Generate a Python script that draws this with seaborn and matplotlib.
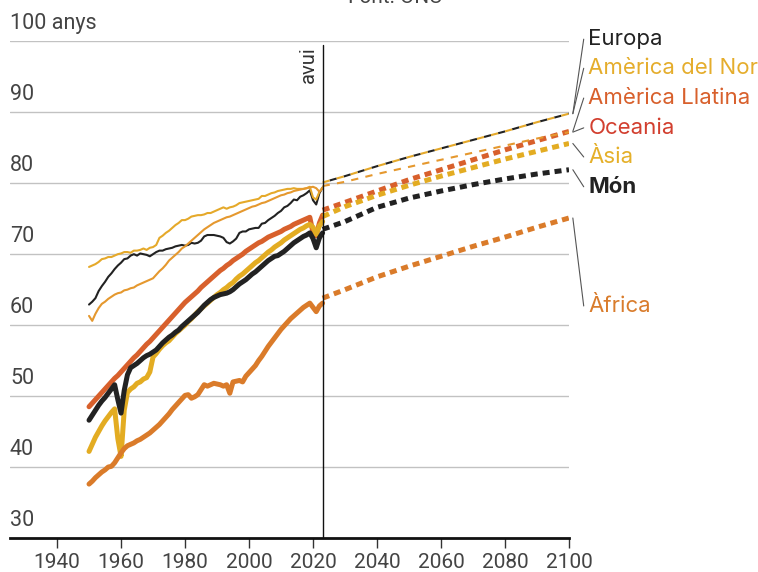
import numpy as np
import pandas as pd
import matplotlib
matplotlib.use("Agg")
import matplotlib.pyplot as plt
import seaborn as sns

# ============================================================
# DADES (esperança de vida, anys)
# ============================================================
anys_hist = list(range(1950, 2024))
anys_proj = [2023, 2030, 2040, 2050, 2060, 2070, 2080, 2090, 2100]

europa = [62.9, 63.3, 63.8, 64.8, 65.5, 66.1, 66.8, 67.3, 67.9, 68.4,
          68.8, 69.3, 69.4, 69.8, 70.0, 69.8, 70.1, 70.0, 69.9, 69.7,
          70.0, 70.3, 70.5, 70.5, 70.7, 70.8, 70.9, 71.1, 71.2, 71.3,
          71.2, 71.3, 71.6, 71.5, 71.6, 71.9, 72.5, 72.7, 72.7, 72.7,
          72.6, 72.5, 72.3, 71.7, 71.5, 71.8, 72.2, 73.0, 73.2, 73.2,
          73.5, 73.6, 73.7, 73.7, 74.3, 74.4, 74.8, 75.1, 75.4, 75.8,
          76.1, 76.6, 76.8, 77.2, 77.7, 77.6, 78.1, 78.3, 78.6, 79.0,
          77.6, 77.0, 78.6, 79.4]
am_nord = [68.2, 68.4, 68.6, 68.9, 69.3, 69.4, 69.6, 69.6, 69.8, 70.0,
           70.1, 70.3, 70.3, 70.2, 70.5, 70.5, 70.6, 70.8, 70.6, 70.9,
           71.0, 71.3, 72.3, 72.6, 73.0, 73.3, 73.7, 74.1, 74.4, 74.8,
           74.8, 75.0, 75.3, 75.4, 75.5, 75.5, 75.6, 75.8, 75.8, 76.0,
           76.2, 76.4, 76.6, 76.4, 76.6, 76.7, 76.9, 77.2, 77.3, 77.4,
           77.5, 77.6, 77.7, 77.8, 78.2, 78.2, 78.4, 78.6, 78.7, 78.9,
           79.0, 79.1, 79.2, 79.2, 79.3, 79.2, 79.2, 79.2, 79.3, 79.5,
           78.0, 77.7, 78.8, 79.4]
am_llatina = [48.5, 49.0, 49.5, 50.0, 50.5, 51.0, 51.5, 52.0, 52.5, 52.9,
              53.4, 53.9, 54.4, 54.9, 55.4, 55.8, 56.3, 56.8, 57.3, 57.7,
              58.2, 58.7, 59.2, 59.7, 60.2, 60.7, 61.2, 61.7, 62.2, 62.7,
              63.2, 63.6, 64.0, 64.4, 64.8, 65.3, 65.7, 66.1, 66.5, 66.9,
              67.3, 67.7, 68.0, 68.4, 68.7, 69.1, 69.4, 69.7, 70.0, 70.4,
              70.7, 71.0, 71.3, 71.6, 71.8, 72.1, 72.4, 72.6, 72.8, 73.0,
              73.2, 73.5, 73.7, 73.9, 74.2, 74.4, 74.6, 74.8, 75.0, 75.2,
              73.0, 72.6, 74.4, 75.5]
oceania = [61.3, 60.6, 61.6, 62.4, 63.0, 63.3, 63.7, 64.0, 64.3, 64.5,
           64.6, 64.9, 65.0, 65.2, 65.3, 65.6, 65.8, 66.0, 66.2, 66.4,
           66.6, 67.1, 67.6, 68.0, 68.5, 69.1, 69.5, 69.9, 70.3, 70.8,
           71.1, 71.5, 71.9, 72.3, 72.7, 73.1, 73.5, 73.8, 74.1, 74.4,
           74.6, 74.8, 75.0, 75.2, 75.3, 75.5, 75.7, 75.9, 76.1, 76.3,
           76.5, 76.7, 76.8, 77.0, 77.2, 77.3, 77.5, 77.7, 77.9, 78.1,
           78.3, 78.4, 78.6, 78.7, 78.9, 79.0, 79.1, 79.2, 79.3, 79.4,
           79.5, 79.3, 78.8, 79.3]
asia = [42.2, 43.2, 44.2, 45.0, 45.8, 46.5, 47.1, 47.7, 48.2, 44.0,
        41.5, 48.0, 50.5, 51.0, 51.3, 51.8, 52.0, 52.4, 52.6, 53.4,
        55.5, 56.0, 56.6, 57.1, 57.5, 57.8, 58.3, 58.8, 59.2, 59.6,
        60.0, 60.5, 60.9, 61.4, 61.9, 62.3, 62.7, 63.1, 63.5, 63.9,
        64.3, 64.6, 65.0, 65.3, 65.7, 66.0, 66.5, 66.9, 67.2, 67.6,
        68.0, 68.4, 68.8, 69.1, 69.5, 69.9, 70.3, 70.6, 71.0, 71.3,
        71.6, 72.0, 72.3, 72.6, 72.9, 73.2, 73.5, 73.7, 74.0, 74.2,
        73.8, 72.8, 74.0, 74.6]
mon = [46.6, 47.3, 48.0, 48.7, 49.3, 49.8, 50.4, 51.0, 51.6, 49.5,
       47.6, 50.8, 53.0, 54.0, 54.3, 54.6, 55.0, 55.4, 55.7, 55.9,
       56.2, 56.5, 57.0, 57.5, 57.9, 58.3, 58.6, 59.0, 59.3, 59.8,
       60.2, 60.6, 61.0, 61.4, 61.8, 62.3, 62.8, 63.2, 63.6, 63.9,
       64.1, 64.3, 64.4, 64.5, 64.7, 65.0, 65.4, 65.8, 66.1, 66.4,
       66.8, 67.2, 67.5, 67.9, 68.3, 68.7, 69.1, 69.4, 69.7, 69.8,
       70.1, 70.4, 70.8, 71.2, 71.6, 71.9, 72.2, 72.5, 72.7, 73.0,
       72.2, 70.9, 72.3, 73.0]
africa = [37.6, 38.0, 38.5, 38.9, 39.3, 39.6, 40.0, 40.1, 40.6, 41.3,
          42.0, 42.6, 43.0, 43.2, 43.4, 43.7, 43.9, 44.2, 44.5, 44.8,
          45.2, 45.6, 46.0, 46.5, 47.0, 47.5, 48.1, 48.6, 49.1, 49.6,
          50.1, 50.2, 49.7, 49.9, 50.2, 50.9, 51.6, 51.4, 51.6, 51.8,
          51.7, 51.6, 51.4, 51.6, 50.4, 52.0, 52.1, 52.2, 52.0, 52.8,
          53.3, 53.8, 54.3, 55.0, 55.6, 56.3, 57.0, 57.6, 58.2, 58.8,
          59.4, 59.9, 60.4, 60.9, 61.3, 61.7, 62.1, 62.5, 62.8, 63.1,
          62.5, 61.9, 62.7, 63.1]

europa_proj = [80.1, 81.0, 82.4, 83.7, 84.9, 86.1, 87.3, 88.6, 89.8]
am_nord_proj = [80.1, 81.0, 82.4, 83.7, 84.9, 86.1, 87.3, 88.6, 89.8]
am_llatina_proj = [76.2, 77.3, 78.9, 80.5, 81.9, 83.3, 84.7, 86.0, 87.3]
oceania_proj = [79.6, 80.2, 81.3, 82.3, 83.3, 84.3, 85.3, 86.3, 87.2]
asia_proj = [75.3, 76.7, 78.3, 79.7, 81.0, 82.2, 83.4, 84.5, 85.6]
mon_proj = [73.5, 74.6, 76.6, 77.9, 78.9, 79.8, 80.6, 81.3, 81.9]
africa_proj = [63.8, 65.0, 66.8, 68.3, 69.7, 71.1, 72.4, 73.8, 75.1]

noms = ['Europa', 'Amèrica del Nord', 'Amèrica Llatina', 'Oceania',
        'Àsia', 'Món', 'Àfrica']
hist = [europa, am_nord, am_llatina, oceania, asia, mon, africa]
proj = [europa_proj, am_nord_proj, am_llatina_proj, oceania_proj,
        asia_proj, mon_proj, africa_proj]

y_ticks = [30, 40, 50, 60, 70, 80, 90, 100]
x_ticks = [1940, 1960, 1980, 2000, 2020, 2040, 2060, 2080, 2100]

# ============================================================
# ESTIL
# ============================================================
sns.set_theme(style='white')
plt.rcParams['font.family'] = ['Roboto', 'DejaVu Sans']

# color de linia, color d'etiqueta, gruix, posicio etiqueta (y)
estil = {
    'Europa':           ('#222222', '#222222', 1.5, 100.3),
    'Amèrica del Nord': ('#e5a92a', '#e5ad2c', 1.5, 96.2),
    'Amèrica Llatina':  ('#d8602c', '#d8602c', 3.6, 92.0),
    'Oceania':          ('#e5982e', '#d23f2f', 1.5, 87.8),
    'Àsia':             ('#e3ac22', '#e5b02a', 3.6, 83.7),
    'Món':              ('#222222', '#222222', 3.6, 79.5),
    'Àfrica':           ('#da7b2a', '#d97c2c', 3.6, 62.7),
}

fig = plt.figure(figsize=(7.58, 5.72), dpi=100)
ax = fig.add_axes([10 / 758, 34 / 572, 559 / 758, 496.7 / 572])

# linies historiques i projeccions
for nom, h, p in zip(noms, hist, proj):
    col, _, lw, _ = estil[nom]
    sns.lineplot(x=anys_hist, y=h, ax=ax, color=col, lw=lw,
                 solid_joinstyle='round', zorder=3)
    if lw > 2:
        ls = (0, (1.4, 1.0))
    elif nom == 'Europa':
        ls = (3.5, (3.5, 3.5))
    else:
        ls = (0, (3.5, 3.5))
    sns.lineplot(x=anys_proj, y=p, ax=ax, color=col, lw=lw,
                 linestyle=ls, zorder=3)

ax.set_xlim(1925.3, 2100)
ax.set_ylim(30, 100)

# graella
for v in y_ticks[1:]:
    ax.axhline(v, color='#c2c2c2', lw=1, zorder=1)
trans = ax.get_yaxis_transform()
for v in y_ticks:
    txt = '100 anys' if v == 100 else str(v)
    ax.annotate(txt, xy=(0, v), xycoords=trans, xytext=(0, 5),
                textcoords='offset points', ha='left', va='bottom',
                fontsize=15.5, color='#444444')

for s in ['top', 'right', 'left']:
    ax.spines[s].set_visible(False)
ax.spines['bottom'].set_color('#111111')
ax.spines['bottom'].set_linewidth(2)
ax.set_yticks([])
ax.set_xticks(x_ticks)
ax.set_xticklabels([str(x) for x in x_ticks])
ax.tick_params(axis='x', bottom=True, direction='out', length=7, width=1,
               color='#333333', labelsize=15, labelcolor='#444444', pad=4)
ax.set_xlabel('')
ax.set_ylabel('')

# linia "avui"
ax.plot([2023, 2023], [30, 99.5], color='#111111', lw=1, zorder=4)
ax.text(2021.6, 99.3, 'avui', rotation=90, ha='right', va='top',
        fontsize=14.5, color='#333333')

# etiquetes a la dreta
for nom, p in zip(noms, proj):
    _, col_t, _, y_lab = estil[nom]
    ax.annotate('', xy=(2101.2, p[-1]), xytext=(2104.6, y_lab),
                arrowprops=dict(arrowstyle='-', color='#555555', lw=0.8,
                                shrinkA=0, shrinkB=0),
                annotation_clip=False)
    ax.text(2106, y_lab, nom, ha='left', va='center', fontsize=16,
            color=col_t, family=['Inter', 'DejaVu Sans'],
            fontweight='bold' if nom == 'Món' else 'normal', clip_on=False)

fig.text(395 / 758, 1 - 3 / 572, 'Font: ONU', ha='center', va='baseline',
         fontsize=15, color='#444444')

plt.savefig('out.png', dpi=100)
